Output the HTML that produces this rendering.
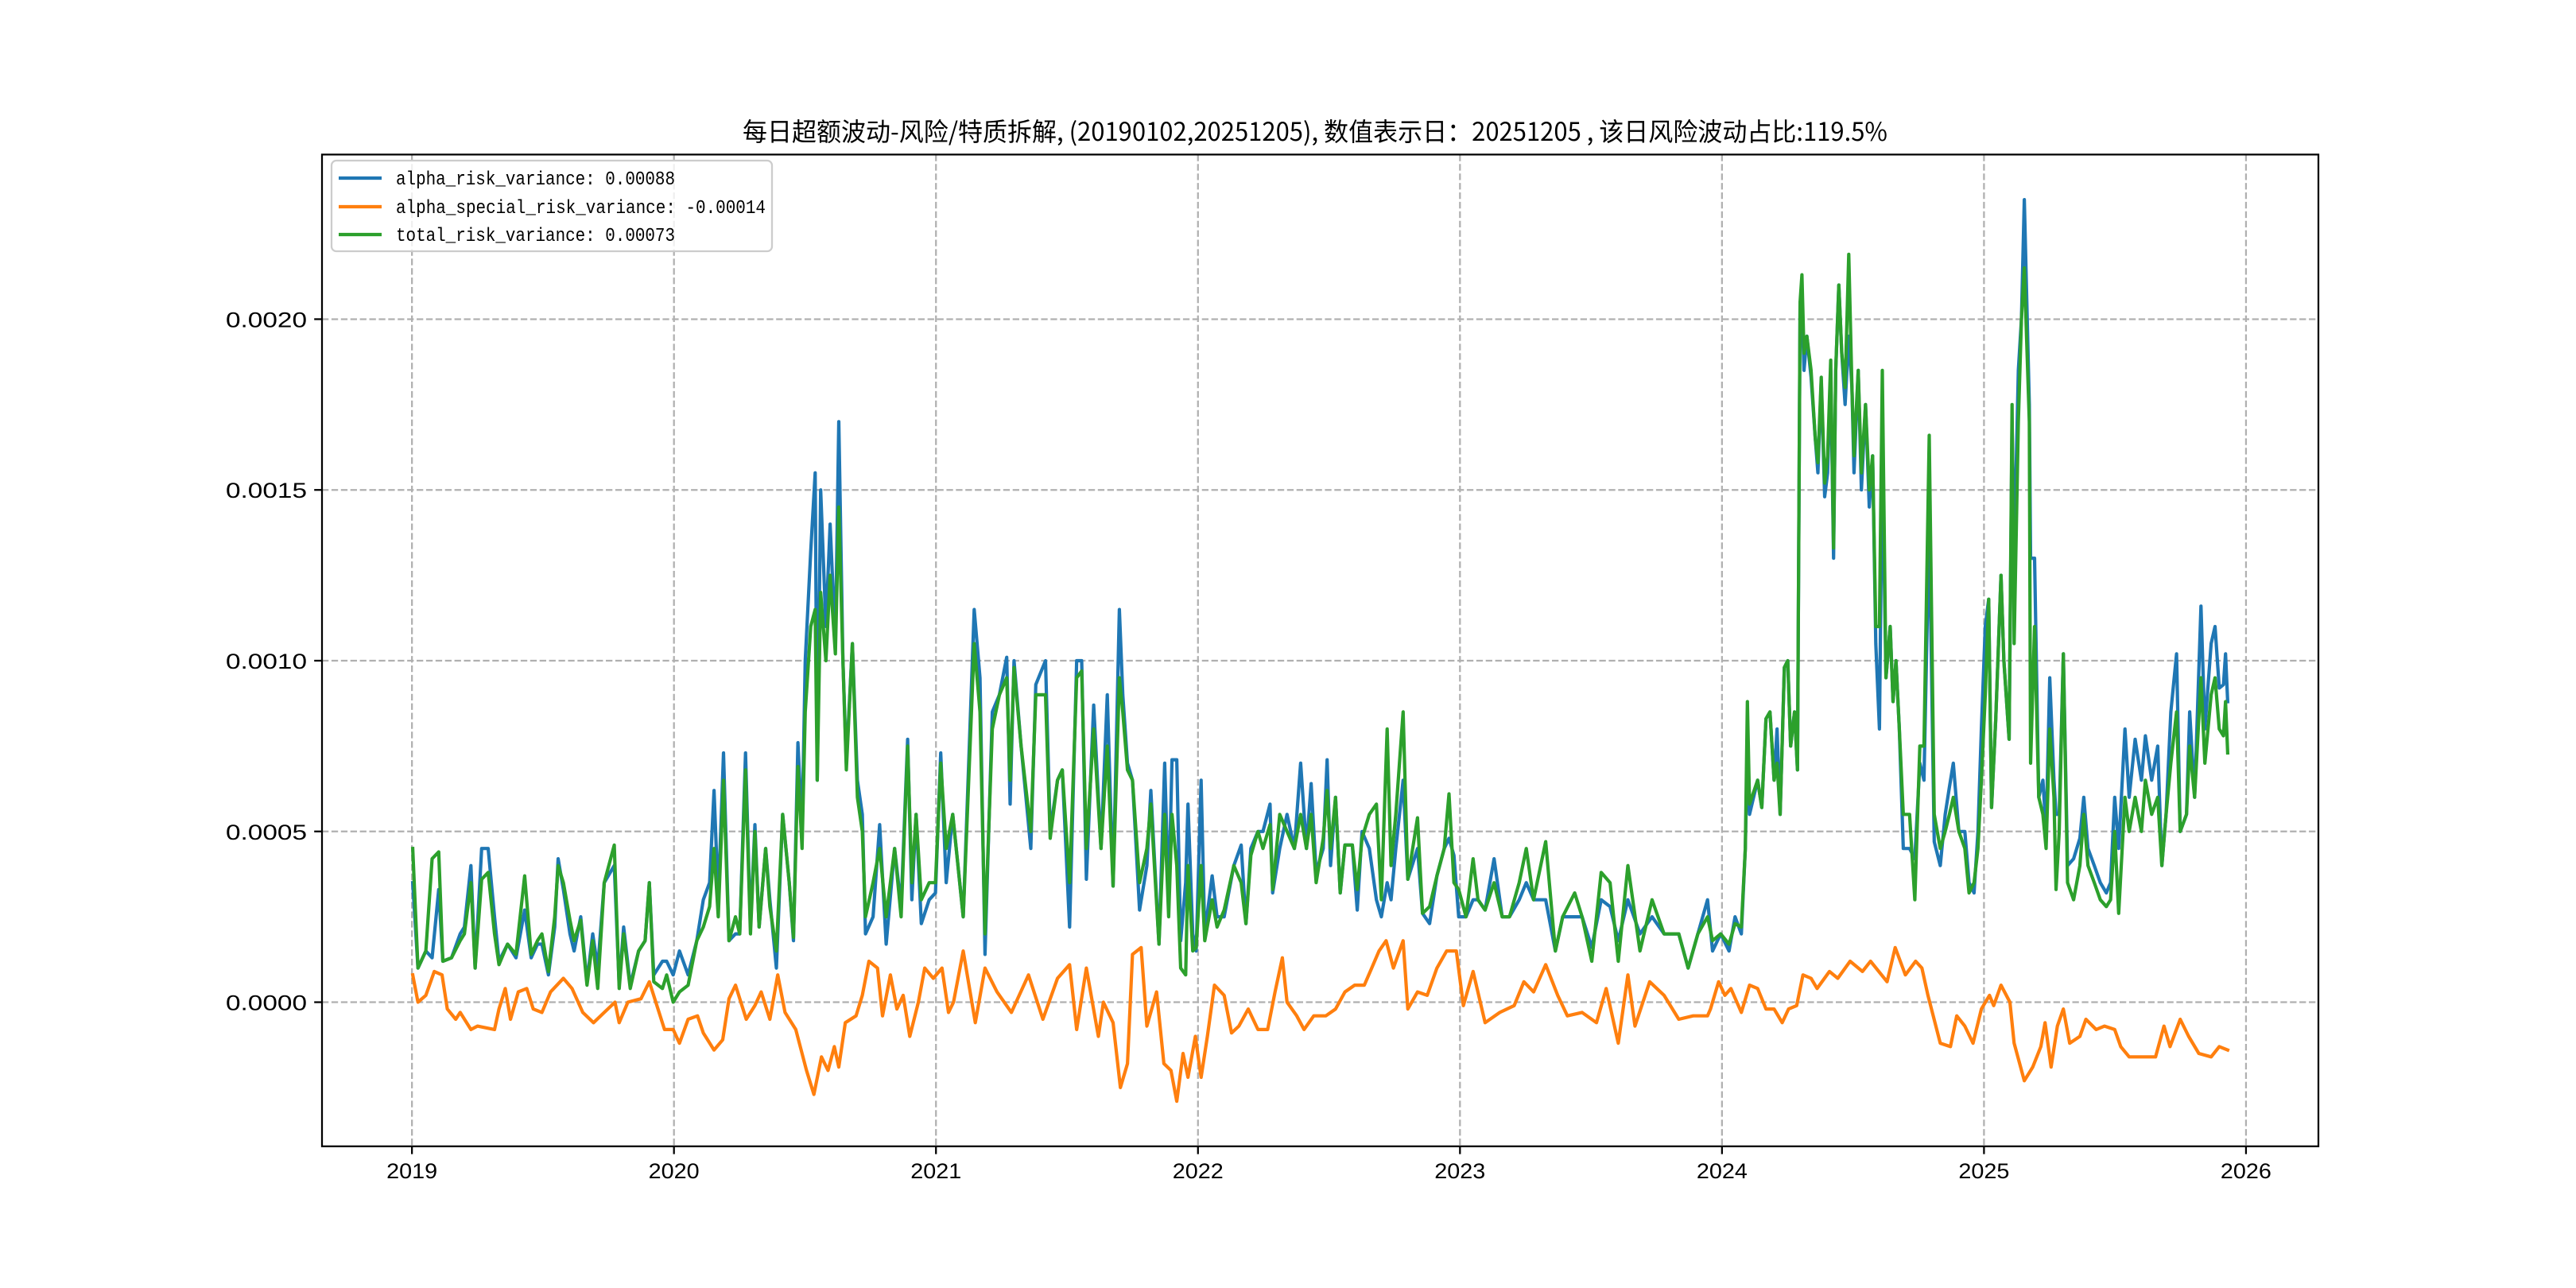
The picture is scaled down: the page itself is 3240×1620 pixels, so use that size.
<!DOCTYPE html>
<html><head><meta charset="utf-8"><style>
html,body{margin:0;padding:0;background:#fff;}
svg{display:block;}
text{font-family:"Liberation Mono","WenQuanYi Zen Hei",monospace;}
.tick{font-family:"WenQuanYi Zen Hei","Liberation Sans",sans-serif;}
</style></head><body>
<svg id="chart" xmlns="http://www.w3.org/2000/svg" width="3240" height="1620" viewBox="0 0 3240 1620">
<rect width="3240" height="1620" fill="#fff"/>
<text x="1654" y="177" text-anchor="middle" font-size="32" textLength="1440" lengthAdjust="spacingAndGlyphs" style="font-family:'WenQuanYi Zen Hei','Noto Sans CJK SC',sans-serif">每日超额波动-风险/特质拆解, (20190102,20251205), 数值表示日：20251205 , 该日风险波动占比:119.5%</text>
<g id="grid"></g><g id="series"></g><g id="axes"></g><g id="legend"></g>
</svg>
<script>
const UNIT = 1e-4;
const xTickLabels = ["2019","2020","2021","2022","2023","2024","2025","2026"];
const yTickValues = [0, 0.0005, 0.0010, 0.0015, 0.0020];
const yTickLabels = ["0.0000","0.0005","0.0010","0.0015","0.0020"];
const riskT = [2019.003,2019.023,2019.053,2019.077,2019.102,2019.118,2019.151,2019.184,2019.200,2019.225,2019.241,2019.266,2019.291,2019.315,2019.332,2019.365,2019.397,2019.430,2019.455,2019.479,2019.496,2019.521,2019.545,2019.558,2019.578,2019.603,2019.619,2019.644,2019.668,2019.690,2019.709,2019.734,2019.772,2019.791,2019.808,2019.833,2019.865,2019.890,2019.906,2019.923,2019.956,2019.972,2019.997,2020.021,2020.054,2020.087,2020.112,2020.136,2020.153,2020.169,2020.189,2020.210,2020.235,2020.251,2020.273,2020.292,2020.309,2020.325,2020.350,2020.366,2020.391,2020.415,2020.440,2020.456,2020.473,2020.489,2020.501,2020.522,2020.539,2020.547,2020.560,2020.580,2020.596,2020.616,2020.629,2020.645,2020.658,2020.681,2020.700,2020.719,2020.731,2020.760,2020.785,2020.810,2020.842,2020.867,2020.892,2020.908,2020.924,2020.944,2020.974,2020.998,2021.018,2021.039,2021.064,2021.104,2021.146,2021.168,2021.187,2021.215,2021.242,2021.270,2021.283,2021.298,2021.325,2021.362,2021.381,2021.418,2021.436,2021.464,2021.482,2021.510,2021.537,2021.556,2021.574,2021.602,2021.630,2021.654,2021.676,2021.700,2021.713,2021.731,2021.750,2021.777,2021.805,2021.820,2021.851,2021.873,2021.888,2021.901,2021.919,2021.934,2021.953,2021.962,2021.980,2021.993,2022.012,2022.026,2022.054,2022.073,2022.100,2022.137,2022.165,2022.183,2022.202,2022.229,2022.248,2022.275,2022.285,2022.312,2022.340,2022.368,2022.392,2022.414,2022.432,2022.451,2022.478,2022.493,2022.506,2022.525,2022.543,2022.561,2022.589,2022.608,2022.626,2022.654,2022.681,2022.700,2022.722,2022.737,2022.755,2022.783,2022.801,2022.838,2022.857,2022.884,2022.912,2022.940,2022.958,2022.977,2022.995,2023.023,2023.050,2023.069,2023.096,2023.130,2023.161,2023.189,2023.226,2023.253,2023.281,2023.327,2023.364,2023.392,2023.438,2023.466,2023.503,2023.539,2023.573,2023.604,2023.641,2023.687,2023.733,2023.779,2023.835,2023.871,2023.908,2023.945,2023.964,2023.995,2024.027,2024.050,2024.074,2024.089,2024.097,2024.105,2024.136,2024.152,2024.168,2024.183,2024.199,2024.210,2024.222,2024.238,2024.251,2024.262,2024.277,2024.288,2024.298,2024.305,2024.313,2024.324,2024.340,2024.356,2024.366,2024.379,2024.392,2024.403,2024.415,2024.426,2024.434,2024.446,2024.457,2024.470,2024.484,2024.496,2024.504,2024.520,2024.532,2024.548,2024.562,2024.575,2024.587,2024.601,2024.612,2024.626,2024.642,2024.653,2024.664,2024.677,2024.692,2024.716,2024.736,2024.755,2024.771,2024.791,2024.810,2024.833,2024.852,2024.868,2024.883,2024.904,2024.927,2024.943,2024.962,2024.977,2024.990,2025.005,2025.018,2025.029,2025.045,2025.065,2025.076,2025.096,2025.107,2025.115,2025.131,2025.143,2025.154,2025.173,2025.178,2025.193,2025.209,2025.225,2025.237,2025.251,2025.267,2025.275,2025.287,2025.303,2025.319,2025.342,2025.366,2025.381,2025.397,2025.421,2025.444,2025.467,2025.483,2025.499,2025.514,2025.538,2025.554,2025.577,2025.601,2025.616,2025.640,2025.663,2025.679,2025.695,2025.713,2025.735,2025.749,2025.773,2025.785,2025.804,2025.828,2025.843,2025.867,2025.882,2025.898,2025.914,2025.922,2025.930];
const riskV = [3.5,1.0,1.5,1.3,3.3,1.2,1.3,2.0,2.2,4.0,1.0,4.5,4.5,2.5,1.2,1.7,1.3,2.7,1.3,1.7,1.7,0.8,2.2,4.2,3.3,2.0,1.5,2.5,0.6,2.0,1.0,3.5,4.0,0.5,2.2,0.5,1.5,1.8,3.5,0.8,1.2,1.2,0.8,1.5,0.8,1.8,3.0,3.5,6.2,3.0,7.3,1.8,2.0,2.0,7.3,2.2,5.2,2.2,4.5,3.0,1.0,5.5,3.5,1.8,7.6,5.0,10.0,13.2,15.5,6.5,15.0,11.0,14.0,10.5,17.0,10.0,7.0,10.5,6.5,5.5,2.0,2.5,5.2,1.7,4.5,2.8,7.7,3.0,5.5,2.3,3.0,3.2,7.3,3.5,5.5,2.5,11.5,9.5,1.4,8.5,9.0,10.1,5.8,10.0,7.5,4.5,9.3,10.0,5.0,6.5,6.8,2.2,10.0,10.0,3.6,8.7,4.5,9.0,3.4,11.5,9.0,7.0,6.5,2.7,4.0,6.2,1.7,7.0,3.0,7.1,7.1,1.8,3.5,5.8,2.0,1.5,6.5,2.0,3.7,2.5,2.5,4.0,4.6,2.3,4.5,5.0,5.0,5.8,3.2,4.5,5.5,4.5,7.0,4.5,6.4,3.8,4.5,7.1,4.0,6.0,3.2,4.6,4.6,2.7,5.0,4.5,3.0,2.5,3.5,3.0,4.5,6.5,3.6,4.5,2.6,2.3,3.7,4.5,4.8,4.3,2.5,2.5,3.0,3.0,2.7,4.2,2.5,2.5,3.0,3.5,3.0,3.0,1.5,2.5,2.5,2.5,1.6,3.0,2.8,1.8,3.0,2.0,2.5,2.0,2.0,1.0,2.0,3.0,1.5,2.0,1.5,2.5,2.0,4.5,7.5,5.5,6.5,5.7,8.3,8.5,6.5,8.0,5.5,9.8,10.0,7.5,8.5,6.8,20.5,20.5,18.5,19.5,18.3,16.5,15.5,18.2,14.8,15.5,18.5,13.0,18.5,21.0,19.0,17.5,19.5,18.0,15.5,18.5,15.0,17.5,14.5,16.0,10.5,8.0,16.0,9.5,11.0,8.8,10.0,8.0,4.5,4.5,4.2,7.0,6.5,14.0,4.7,4.0,5.5,6.3,7.0,5.0,5.0,3.5,3.2,5.0,8.0,11.0,11.8,5.7,8.3,12.5,10.0,7.7,17.0,13.0,18.5,20.0,23.5,17.5,13.0,13.0,6.0,6.5,5.0,9.5,6.5,5.5,5.5,10.2,4.0,4.2,4.8,6.0,4.5,4.0,3.5,3.2,3.5,6.0,4.5,8.0,6.0,7.7,6.5,7.8,6.5,7.5,4.0,5.5,8.5,10.2,5.0,5.5,8.5,6.0,11.6,8.0,10.5,11.0,9.2,9.3,10.2,8.8];
const totalV = [4.5,1.0,1.5,4.2,4.4,1.2,1.3,1.8,2.0,3.5,1.0,3.6,3.8,2.0,1.1,1.7,1.4,3.7,1.4,1.8,2.0,0.9,2.5,4.0,3.5,2.4,1.8,2.4,0.5,1.8,0.4,3.5,4.6,0.4,2.0,0.4,1.5,1.8,3.5,0.6,0.4,0.8,0.0,0.3,0.5,1.8,2.2,2.8,4.5,2.5,6.5,1.8,2.5,2.0,6.8,2.0,5.0,2.2,4.5,2.8,1.5,5.5,3.5,1.9,6.9,4.5,8.5,11.0,11.5,6.5,12.0,10.0,12.5,10.2,14.5,10.0,6.8,10.5,6.0,5.0,2.5,3.5,4.5,2.5,4.5,2.5,7.5,3.5,5.5,3.0,3.5,3.5,7.0,4.5,5.5,2.5,10.5,8.5,2.0,8.0,9.0,9.5,6.5,9.8,7.5,5.0,9.0,9.0,4.8,6.5,6.8,3.5,9.5,9.7,4.5,8.0,4.5,7.5,3.4,9.5,8.5,6.8,6.5,3.5,4.5,5.8,1.7,5.5,2.5,5.5,4.0,1.0,0.8,4.0,1.5,1.6,4.0,1.8,3.0,2.2,2.7,4.0,3.5,2.3,4.3,5.0,4.5,5.2,3.3,5.5,5.0,4.5,5.5,4.5,5.5,3.5,4.8,6.2,4.5,6.0,3.2,4.6,4.6,3.3,4.8,5.5,5.8,3.0,8.0,4.0,5.5,8.5,3.6,5.4,2.6,2.8,3.7,4.5,6.1,3.5,3.3,2.5,4.2,3.0,2.7,3.5,2.5,2.5,3.5,4.5,3.0,4.7,1.5,2.5,3.2,2.5,1.2,3.8,3.5,1.2,4.0,1.5,3.0,2.0,2.0,1.0,2.0,2.5,1.8,2.0,1.7,2.3,2.2,4.5,8.8,5.8,6.5,5.7,8.3,8.5,6.5,7.0,5.5,9.8,10.0,7.5,8.5,6.8,20.5,21.3,19.0,19.5,18.5,16.5,15.8,18.3,15.2,16.0,18.8,13.3,18.5,21.0,19.0,18.0,21.9,18.0,16.0,18.5,15.5,17.5,15.0,16.0,11.0,11.0,18.5,9.5,11.0,8.8,10.0,8.0,5.5,5.5,3.0,7.5,7.5,16.6,5.5,4.5,5.0,5.5,6.0,5.0,4.5,3.2,3.5,4.5,6.5,9.0,11.8,5.7,8.3,12.5,10.0,7.7,17.5,10.5,17.0,20.0,21.5,17.0,7.0,11.0,6.0,5.5,4.5,8.0,6.0,3.3,5.0,10.2,3.5,3.0,4.0,5.5,4.0,3.5,3.0,2.8,3.0,5.0,2.6,6.0,5.0,6.0,5.0,6.5,5.5,6.0,4.0,5.5,7.0,8.5,5.0,5.5,7.5,6.0,9.5,7.0,9.0,9.5,8.0,7.8,8.8,7.3];
const specT = [2019.003,2019.023,2019.053,2019.085,2019.115,2019.135,2019.167,2019.184,2019.225,2019.250,2019.315,2019.332,2019.356,2019.376,2019.406,2019.438,2019.463,2019.496,2019.529,2019.578,2019.611,2019.652,2019.693,2019.734,2019.775,2019.791,2019.824,2019.874,2019.906,2019.939,2019.964,2019.997,2020.021,2020.054,2020.090,2020.112,2020.153,2020.186,2020.210,2020.235,2020.276,2020.309,2020.333,2020.366,2020.396,2020.424,2020.465,2020.506,2020.534,2020.563,2020.588,2020.612,2020.629,2020.654,2020.695,2020.719,2020.744,2020.777,2020.796,2020.826,2020.851,2020.875,2020.900,2020.933,2020.957,2020.990,2021.023,2021.048,2021.067,2021.104,2021.150,2021.187,2021.233,2021.288,2021.353,2021.408,2021.464,2021.510,2021.537,2021.574,2021.620,2021.639,2021.676,2021.704,2021.731,2021.750,2021.783,2021.805,2021.842,2021.870,2021.897,2021.919,2021.943,2021.962,2021.990,2022.012,2022.036,2022.063,2022.100,2022.128,2022.156,2022.192,2022.229,2022.266,2022.294,2022.322,2022.340,2022.377,2022.405,2022.442,2022.488,2022.525,2022.561,2022.598,2022.635,2022.663,2022.691,2022.718,2022.746,2022.783,2022.801,2022.838,2022.875,2022.912,2022.949,2022.986,2023.013,2023.050,2023.096,2023.152,2023.207,2023.244,2023.281,2023.327,2023.373,2023.410,2023.466,2023.521,2023.558,2023.604,2023.641,2023.668,2023.724,2023.779,2023.835,2023.890,2023.945,2023.956,2023.987,2024.011,2024.034,2024.074,2024.105,2024.136,2024.168,2024.199,2024.230,2024.254,2024.285,2024.309,2024.340,2024.363,2024.410,2024.442,2024.489,2024.536,2024.567,2024.630,2024.661,2024.700,2024.739,2024.763,2024.786,2024.833,2024.872,2024.896,2024.927,2024.958,2024.990,2025.021,2025.037,2025.065,2025.099,2025.115,2025.154,2025.186,2025.217,2025.233,2025.256,2025.280,2025.303,2025.327,2025.366,2025.389,2025.428,2025.460,2025.499,2025.522,2025.554,2025.585,2025.616,2025.655,2025.687,2025.710,2025.749,2025.781,2025.820,2025.867,2025.898,2025.930];
const specV = [0.8,0,0.2,0.9,0.8,-0.2,-0.5,-0.3,-0.8,-0.7,-0.8,-0.2,0.4,-0.5,0.3,0.4,-0.2,-0.3,0.3,0.7,0.4,-0.3,-0.6,-0.3,0,-0.6,0,0.1,0.6,-0.2,-0.8,-0.8,-1.2,-0.5,-0.4,-0.9,-1.4,-1.1,0.1,0.5,-0.5,-0.1,0.3,-0.5,0.8,-0.3,-0.8,-2.0,-2.7,-1.6,-2.0,-1.3,-1.9,-0.6,-0.4,0.2,1.2,1.0,-0.4,0.8,-0.2,0.2,-1.0,0,1.0,0.7,1.0,-0.3,0,1.5,-0.6,1.0,0.3,-0.3,0.8,-0.5,0.7,1.1,-0.8,1.0,-1.0,0,-0.6,-2.5,-1.8,1.4,1.6,-0.7,0.3,-1.8,-2.0,-2.9,-1.5,-2.2,-1.0,-2.2,-1.0,0.5,0.2,-0.9,-0.7,-0.2,-0.8,-0.8,0.3,1.3,0,-0.4,-0.8,-0.4,-0.4,-0.2,0.3,0.5,0.5,1.0,1.5,1.8,1.0,1.8,-0.2,0.3,0.2,1.0,1.5,1.5,-0.1,0.9,-0.6,-0.3,-0.1,0.6,0.3,1.1,0.2,-0.4,-0.3,-0.6,0.4,-1.2,0.8,-0.7,0.6,0.2,-0.5,-0.4,-0.4,-0.2,0.6,0.2,0.4,-0.3,0.5,0.4,-0.2,-0.2,-0.6,-0.2,-0.1,0.8,0.7,0.4,0.9,0.7,1.2,0.9,1.2,0.6,1.6,0.8,1.2,1.0,0.2,-1.2,-1.3,-0.4,-0.7,-1.2,-0.2,0.2,-0.1,0.5,0,-1.2,-2.3,-1.9,-1.3,-0.6,-1.9,-0.7,-0.2,-1.2,-1.0,-0.5,-0.8,-0.7,-0.8,-1.3,-1.6,-1.6,-1.6,-1.6,-0.7,-1.3,-0.5,-1.0,-1.5,-1.6,-1.3,-1.4];

const SVGNS = "http://www.w3.org/2000/svg";
const L = 405, R = 2916, T = 194.4, B = 1441.8;
function extent(arrs){let mn=Infinity,mx=-Infinity;arrs.forEach(a=>a.forEach(v=>{if(v<mn)mn=v;if(v>mx)mx=v;}));return [mn,mx];}
const [tmin,tmax] = extent([riskT,specT]);
const xm = (tmax-tmin)*0.05;
const x0 = tmin-xm, x1 = tmax+xm;
const [vmin,vmax] = extent([riskV,totalV,specV].map(a=>a.map(v=>v*UNIT)));
const ym = (vmax-vmin)*0.05;
const y0 = vmin-ym, y1 = vmax+ym;
function xScale(t){return L+(t-x0)/(x1-x0)*(R-L);}
function yScale(v){return B-(v-y0)/(y1-y0)*(B-T);}
function mk(tag,attrs,parent){const e=document.createElementNS(SVGNS,tag);for(const k in attrs)e.setAttribute(k,attrs[k]);parent.appendChild(e);return e;}

const grid=document.getElementById('grid'), axes=document.getElementById('axes'), series=document.getElementById('series'), legend=document.getElementById('legend');
xTickLabels.forEach(lbl=>{
  const x=xScale(parseFloat(lbl));
  const g=mk('line',{x1:x,x2:x,y1:T,y2:B,stroke:'#b0b0b0','stroke-width':2.25,'stroke-dasharray':'8.3,3.6'},grid);
  
  
  const tk=mk('line',{x1:x,x2:x,y1:B,y2:B+9.8,stroke:'#000','stroke-width':2.25},axes);
  
  
  const tx=mk('text',{x:x,y:B+40,'text-anchor':'middle','font-size':27,textLength:64,lengthAdjust:'spacingAndGlyphs','class':'tick'},axes);
  tx.textContent=lbl;
  
  
});
yTickValues.forEach((v,i)=>{
  const y=yScale(v);
  const g=mk('line',{x1:L,x2:R,y1:y,y2:y,stroke:'#b0b0b0','stroke-width':2.25,'stroke-dasharray':'8.3,3.6'},grid);
  
  
  const tk=mk('line',{x1:L-9.8,x2:L,y1:y,y2:y,stroke:'#000','stroke-width':2.25},axes);
  
  
  const tx=mk('text',{x:386,y:y+10,'text-anchor':'end','font-size':27,textLength:102,lengthAdjust:'spacingAndGlyphs','class':'tick'},axes);
  tx.textContent=yTickLabels[i];
  
  
});
function drawLine(ts,vs,color,name){
  const d=ts.map((t,i)=>(i?'L':'M')+xScale(t).toFixed(1)+','+yScale(vs[i]*UNIT).toFixed(1)).join('');
  const p=mk('path',{d:d,fill:'none',stroke:color,'stroke-width':4.2,'stroke-linejoin':'round','stroke-linecap':'square'},series);
  
  
}
drawLine(riskT,riskV,'#1f77b4','alpha-risk-variance-line');
drawLine(specT,specV,'#ff7f0e','alpha-special-risk-variance-line');
drawLine(riskT,totalV,'#2ca02c','total-risk-variance-line');
const frame=mk('rect',{x:L,y:T,width:R-L,height:B-T,fill:'none',stroke:'#000','stroke-width':2.25},axes);



const box=mk('rect',{x:417,y:202,width:554,height:114,rx:6,fill:'#fff','fill-opacity':0.8,stroke:'#cccccc','stroke-width':2.25},legend);


const legendLabels=['alpha_risk_variance: 0.00088','alpha_special_risk_variance: -0.00014','total_risk_variance: 0.00073'];
const legendColors=['#1f77b4','#ff7f0e','#2ca02c'];
const legendWidths=[351,465,351];
const legendY=[224,260,295];
legendLabels.forEach((lbl,i)=>{
  const ln=mk('line',{x1:426,x2:480,y1:legendY[i],y2:legendY[i],stroke:legendColors[i],'stroke-width':4.2},legend);
  
  
  const tx=mk('text',{x:498,y:legendY[i]+8,'font-size':24,textLength:legendWidths[i],lengthAdjust:'spacingAndGlyphs'},legend);
  tx.textContent=lbl;
  
  
});
</script>
</body></html>
